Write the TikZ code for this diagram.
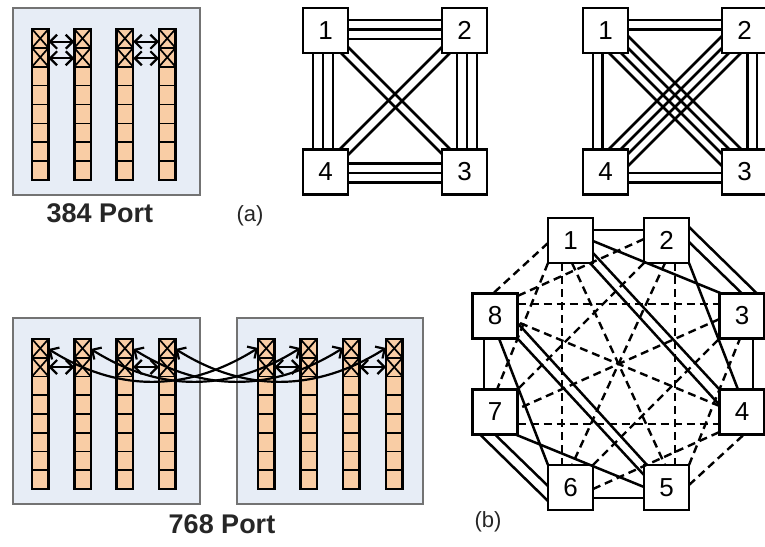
\documentclass[tikz,border=0pt]{standalone}
\usepackage{fontspec}
\setmainfont{Liberation Sans}
\usetikzlibrary{arrows.meta,calc}
\definecolor{panelbg}{RGB}{231,237,246}
\definecolor{cellfill}{RGB}{249,205,165}

% one switch column: #1 name, #2 x, #3 y of top, #4 cell height
\newcommand\portcolumn[4]{%
  \node[colbody, minimum height=8*#4pt] (#1) at (#2,#3) {};
  \foreach \k in {1,...,7}
    \draw[divider] ($(#1.north west)+(0,\k*#4)$) -- ($(#1.north east)+(0,\k*#4)$);
  \draw[divider] (#1.north west) -- ($(#1.north east)+(0,#4)$);
  \draw[divider] (#1.north east) -- ($(#1.north west)+(0,#4)$);
  \draw[divider] ($(#1.north west)+(0,#4)$) -- ($(#1.north east)+(0,2*#4)$);
  \draw[divider] ($(#1.north east)+(0,#4)$) -- ($(#1.north west)+(0,2*#4)$);
  \draw[colrim] (#1.north west) rectangle (#1.south east);
}

\begin{document}
\begin{tikzpicture}[x=1pt,y=-1pt,
  panel/.style={draw=black!55, line width=1.4pt, fill=panelbg},
  colbody/.style={fill=cellfill, minimum width=16.5pt, inner sep=0pt, outer sep=0pt, anchor=north west},
  colrim/.style={draw=black, line width=2.5pt},
  divider/.style={draw=black, line width=1.7pt},
  barb/.style={Straight Barb[length=7pt,width=14pt]},
  link/.style={{Straight Barb[length=7pt,width=14pt]}-{Straight Barb[length=7pt,width=14pt]}, draw=black, line width=2.2pt},
  sq/.style={draw=black, line width=2.8pt, fill=white, minimum size=45pt, inner sep=0pt, outer sep=0pt, anchor=north west, font=\fontsize{26}{26}\selectfont},
  wire/.style={draw=black, line width=2.5pt},
  dashwire/.style={draw=black, line width=2.4pt, dash pattern=on 8pt off 5pt},
  title/.style={font=\bfseries\fontsize{27}{27}\selectfont, text=black!85},
  caption/.style={font=\fontsize{22}{22}\selectfont, text=black!85}]
\useasboundingbox (0,0) rectangle (765,546);

% ---------- 384 port chassis ----------
\draw[panel] (13,8) rectangle (200,195);
\portcolumn{a1}{32}{29}{18.875}
\portcolumn{a2}{74.3}{29}{18.875}
\portcolumn{a3}{116.7}{29}{18.875}
\portcolumn{a4}{159}{29}{18.875}
\foreach \u/\v in {a1/a2, a3/a4}{
  \draw[link] ($(\u.north east)+(0,12.7)$) -- ($(\v.north west)+(0,12.7)$);
  \draw[link] ($(\u.north east)+(0,29.3)$) -- ($(\v.north west)+(0,29.3)$);
}
\node[title] (t384) at (100,213) {384 Port};
\node[caption] (capa) at (250,216) {(a)};

% ---------- 768 port chassis ----------
\draw[panel] (13,318) rectangle (200,504);
\draw[panel] (237,318) rectangle (423,504);
\portcolumn{b1}{32}{339}{18.75}
\portcolumn{b2}{74.3}{339}{18.75}
\portcolumn{b3}{116.7}{339}{18.75}
\portcolumn{b4}{159}{339}{18.75}
\portcolumn{b5}{258}{339}{18.75}
\portcolumn{b6}{300.3}{339}{18.75}
\portcolumn{b7}{343}{339}{18.75}
\portcolumn{b8}{386}{339}{18.75}
\foreach \u/\v in {b1/b2, b3/b4, b5/b6, b7/b8}
  \draw[link] ($(\u.north east)+(0,28)$) -- ($(\v.north west)+(0,28)$);
\foreach \u/\v in {b1/b5, b2/b6, b3/b7, b4/b8}
  \draw[link] ($(\u.north east)+(0,10)$) .. controls +(70,44) and +(-70,44) .. ($(\v.north west)+(0,9)$);
\node[title] (t768) at (222,524) {768 Port};

% ---------- four switches, three/two links per side ----------
\node[sq] (m1) at (303,8) {1};
\node[sq] (m2) at (442,8) {2};
\node[sq] (m3) at (442,149.5) {3};
\node[sq] (m4) at (303,149.5) {4};
\foreach \d in {12,21.5,31}
  \draw[wire] ($(m1.north west)+(45,\d)$) -- ($(m2.north west)+(0,\d)$);
\foreach \d in {14,23.5,33}
  \draw[wire] ($(m4.north west)+(45,\d)$) -- ($(m3.north west)+(0,\d)$);
\foreach \d in {10,20,30}
  \draw[wire] ($(m1.north west)+(\d,45)$) -- ($(m4.north west)+(\d,0)$);
\foreach \d in {15,25,35}
  \draw[wire] ($(m2.north west)+(\d,45)$) -- ($(m3.north west)+(\d,0)$);
\draw[wire] ($(m1.north west)+(45,39)$) -- ($(m3.north west)+(8.5,0)$);
\draw[wire] ($(m1.north west)+(38,45)$) -- ($(m3.north west)+(0,4.5)$);
\draw[wire] ($(m2.north west)+(0,39)$) -- ($(m4.north west)+(36.5,0)$);
\draw[wire] ($(m2.north west)+(8,45)$) -- ($(m4.north west)+(45,5.5)$);

% ---------- four switches, two links per side, four per diagonal ----------
\node[sq] (r1) at (583,8) {1};
\node[sq] (r2) at (722,8) {2};
\node[sq] (r3) at (722,149.5) {3};
\node[sq] (r4) at (583,149.5) {4};
\foreach \d in {12,21.5}
  \draw[wire] ($(r1.north west)+(45,\d)$) -- ($(r2.north west)+(0,\d)$);
\foreach \d in {23.5,33}
  \draw[wire] ($(r4.north west)+(45,\d)$) -- ($(r3.north west)+(0,\d)$);
\foreach \d in {10,19.5}
  \draw[wire] ($(r1.north west)+(\d,45)$) -- ($(r4.north west)+(\d,0)$);
\foreach \d in {25.5,35}
  \draw[wire] ($(r2.north west)+(\d,45)$) -- ($(r3.north west)+(\d,0)$);
\draw[wire] ($(r1.north west)+(45,28)$) -- ($(r3.north west)+(19.5,0)$);
\draw[wire] ($(r1.north west)+(45,40)$) -- ($(r3.north west)+(7.5,0)$);
\draw[wire] ($(r1.north west)+(38,45)$) -- ($(r3.north west)+(0,4.5)$);
\draw[wire] ($(r1.north west)+(26,45)$) -- ($(r3.north west)+(0,16.5)$);
\draw[wire] ($(r2.north west)+(0,28)$) -- ($(r4.north west)+(25.5,0)$);
\draw[wire] ($(r2.north west)+(0,40)$) -- ($(r4.north west)+(37.5,0)$);
\draw[wire] ($(r2.north west)+(7,45)$) -- ($(r4.north west)+(45,4.5)$);
\draw[wire] ($(r2.north west)+(19,45)$) -- ($(r4.north west)+(45,16.5)$);

% ---------- eight switches on an octagon ----------
\node[sq] (o1) at (548,218) {1};
\node[sq] (o2) at (644,218) {2};
\node[sq] (o3) at (719.5,293.5) {3};
\node[sq] (o4) at (719.5,389.5) {4};
\node[sq] (o5) at (644,465) {5};
\node[sq] (o6) at (548,465) {6};
\node[sq] (o7) at (472.5,389.5) {7};
\node[sq] (o8) at (472.5,293.5) {8};
% solid links inside each group of four
\draw[wire] ($(o1.north west)+(45,12)$) -- ($(o2.north west)+(0,12)$);
\draw[wire] ($(o5.north west)+(0,33)$) -- ($(o6.north west)+(45,33)$);
\draw[wire] ($(o1.north west)+(45,23)$) -- ($(o3.north west)+(2,0)$);
\draw[wire] ($(o5.north west)+(0,22)$) -- ($(o7.north west)+(43,45)$);
\draw[wire] ($(o2.north west)+(45,9)$) -- ($(o3.north west)+(37.5,0)$);
\draw[wire] ($(o2.north west)+(45,24)$) -- ($(o3.north west)+(22.5,0)$);
\draw[wire] ($(o6.north west)+(0,36)$) -- ($(o7.north west)+(7.5,45)$);
\draw[wire] ($(o6.north west)+(0,21)$) -- ($(o7.north west)+(22.5,45)$);
\draw[wire] (o2.south east) -- ($(o4.north west)+(18.5,0)$);
\draw[wire] (o6.north west) -- ($(o8.north west)+(26.5,45)$);
\draw[wire] ($(o3.north west)+(33.5,45)$) -- ($(o4.north west)+(33.5,0)$);
\draw[wire] ($(o8.north west)+(11.5,45)$) -- ($(o7.north west)+(11.5,0)$);
\draw[wire] ($(o1.north west)+(45,35)$) -- (o4.north west);
\draw[wire] ($(o1.north west)+(42,45)$) -- ($(o4.north west)+(0,15.5)$);
\draw[wire] ($(o5.north west)+(0,10)$) -- (o8.south east);
\draw[wire] ($(o5.north west)+(3,0)$) -- ($(o8.north west)+(45,29.5)$);
% dashed links between the two groups
\draw[dashwire] ($(o1.north west)+(24,45)$) -- ($(o5.north west)+(21,0)$);
\draw[dashwire] ($(o2.north west)+(21,45)$) -- ($(o6.north west)+(24,0)$);
\draw[dashwire] ($(o3.north west)+(0,25.5)$) -- ($(o7.north west)+(45,19.5)$);
\draw[dashwire] ($(o4.north west)+(0,16.5)$) -- ($(o8.north west)+(45,28.5)$);
\draw[dashwire] ($(o1.north west)+(0,25)$) -- ($(o8.north west)+(20.5,0)$);
\draw[dashwire] ($(o5.north west)+(45,20)$) -- ($(o4.north west)+(24.5,45)$);
\draw[dashwire] ($(o1.north west)+(14,45)$) -- ($(o6.north west)+(14,0)$);
\draw[dashwire] ($(o2.north west)+(31,45)$) -- ($(o5.north west)+(31,0)$);
\draw[dashwire] ($(o8.north west)+(45,10.5)$) -- ($(o3.north west)+(0,10.5)$);
\draw[dashwire] ($(o7.north west)+(45,34.5)$) -- ($(o4.north west)+(0,34.5)$);
\draw[dashwire] ($(o2.north west)+(0,21)$) -- ($(o8.north west)+(45,2.5)$);
\draw[dashwire] ($(o6.north west)+(45,24)$) -- ($(o4.north west)+(0,42.5)$);
\draw[dashwire] (o1.south west) -- ($(o7.north west)+(24.5,0)$);
\draw[dashwire] (o5.north east) -- ($(o3.north west)+(20.5,45)$);
\draw[dashwire] (o2.south west) -- (o7.north east);
\draw[dashwire] (o6.north east) -- (o3.south west);
\node[caption] (capb) at (488,522) {(b)};
\end{tikzpicture}
\end{document}
